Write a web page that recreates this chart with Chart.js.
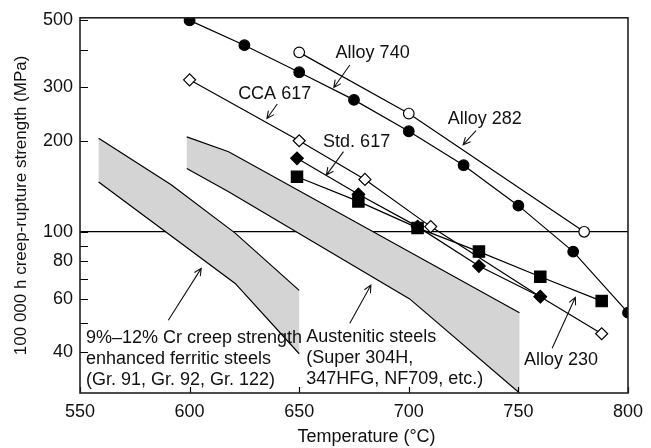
<!DOCTYPE html>
<html>
<head>
<meta charset="utf-8">
<script src="https://cdn.jsdelivr.net/npm/chart.js@4"></script>
<style>
  html, body { margin: 0; padding: 0; background: #fff; }
</style>
</head>
<body>
<canvas id="chart" width="651" height="448"></canvas>
<script>
// Temperature (°C) and 100 000 h creep-rupture strength (MPa)
const alloy740Temp = [600, 625, 650, 675, 700, 725, 750, 775, 800];
const alloy740Mpa = [500, 414, 337, 273, 215, 166, 122, 86, 54];

const alloy282Temp = [650, 700, 780];
const alloy282Mpa = [392, 246, 100];

const cca617Temp = [600, 650, 680, 710, 760, 788];
const cca617Mpa = [318, 200, 149, 104, 61, 46];

const std617Temp = [649, 677, 704, 732, 760];
const std617Mpa = [175, 133, 104, 77, 61];

const alloy230Temp = [649, 677, 704, 732, 760, 788];
const alloy230Mpa = [152, 126, 103, 86, 71, 59];

// Scatter bands (upper and lower bounds)
const ferriticUpperTemp = [558.5, 591.6, 620.8, 650];
const ferriticUpperMpa = [204, 143, 99, 64];
const ferriticLowerTemp = [558.5, 620.8, 650];
const ferriticLowerMpa = [146, 67.5, 39.5];

const austeniticUpperTemp = [598.7, 617.8, 750.5];
const austeniticUpperMpa = [206, 184, 54];
const austeniticLowerTemp = [598.7, 617.8, 700.4, 750.5];
const austeniticLowerMpa = [162, 135.6, 60, 29.3];

// Axis ticks
const xTicks = [550, 600, 650, 700, 750, 800];
const yTicks = [40, 50, 60, 70, 80, 90, 100, 200, 300, 400, 500];
const yLabels = [40, 60, 80, 100, 200, 300, 500];

const FONT = '"Liberation Sans", Arial, sans-serif';

function toPoints(temps, vals) {
    return temps.map((t, i) => ({ x: t, y: vals[i] }));
}

// closed outline: along the upper bound, back along the lower bound
function bandShape(upT, upV, loT, loV) {
    return toPoints(upT, upV).concat(toPoints(loT, loV).reverse());
}

function series(temps, vals, style, radius, fill) {
    return {
        data: toPoints(temps, vals),
        showLine: true,
        borderColor: '#000',
        borderWidth: 1.2,
        pointStyle: style,
        pointRadius: radius,
        pointBorderWidth: 1.2,
        pointBorderColor: '#000',
        pointBackgroundColor: fill,
        order: 1
    };
}

function edge(temps, vals) {
    return {
        data: toPoints(temps, vals),
        showLine: true,
        borderColor: '#000',
        borderWidth: 1.2,
        pointRadius: 0,
        order: 5
    };
}

function band(shape) {
    return {
        data: shape,
        showLine: true,
        borderWidth: 0,
        borderColor: 'rgba(0,0,0,0)',
        backgroundColor: '#d4d4d4',
        fill: 'shape',
        pointRadius: 0,
        order: 9
    };
}

// Text labels with arrows, placed in data units
const notes = [
    { lines: ['Alloy 740'], at: [683.5, 390], align: 'center', arrow: [[673.1, 356], [665.8, 300]] },
    { lines: ['Alloy 282'], at: [734.7, 236], align: 'center', arrow: [[730.7, 216], [724.8, 194]] },
    { lines: ['Std. 617'], at: [676.2, 198.5], align: 'center', arrow: [[670.2, 184], [662.4, 154]] },
    { lines: ['CCA 617'], at: [638.8, 285.5], align: 'center', arrow: [[640, 264.5], [635.3, 237]] },
    { lines: ['Alloy 230'], at: [769.4, 37.6], align: 'center', arrow: [[765.4, 41.2], [776, 60.7]] },
    { lines: ['Austenitic steels', '(Super 304H,', '347HFG, NF709, etc.)'], at: [653.2, 45], align: 'left',
      arrow: [[673.1, 49.8], [682.7, 66.6]] },
    { lines: ['9%\u201312% Cr creep strength', 'enhanced ferritic steels', '(Gr. 91, Gr. 92, Gr. 122)'], at: [552.7, 44.4], align: 'left',
      arrow: [[590.3, 51], [605.3, 75.7]] }
];

function drawArrow(ctx, x1, y1, x2, y2) {
    const ang = Math.atan2(y2 - y1, x2 - x1);
    const len = 8, spread = 0.45;
    ctx.beginPath();
    ctx.moveTo(x1, y1);
    ctx.lineTo(x2, y2);
    ctx.moveTo(x2 - len * Math.cos(ang - spread), y2 - len * Math.sin(ang - spread));
    ctx.lineTo(x2, y2);
    ctx.lineTo(x2 - len * Math.cos(ang + spread), y2 - len * Math.sin(ang + spread));
    ctx.stroke();
}

const frameAndNotes = {
    id: 'frameAndNotes',
    afterDatasetsDraw(chart) {
        const { ctx, chartArea: a, scales: { x, y } } = chart;
        ctx.save();

        // inward tick marks
        ctx.strokeStyle = '#000';
        ctx.lineWidth = 1.2;
        ctx.beginPath();
        yTicks.forEach(v => {
            const py = Math.round(y.getPixelForValue(v)) + 0.5;
            ctx.moveTo(a.left, py);
            ctx.lineTo(a.left + 8, py);
        });
        xTicks.forEach(v => {
            const px = Math.round(x.getPixelForValue(v)) + 0.5;
            ctx.moveTo(px, a.bottom);
            ctx.lineTo(px, a.bottom - 6);
        });
        ctx.stroke();

        // frame
        ctx.strokeStyle = '#222';
        ctx.lineWidth = 1.6;
        ctx.strokeRect(a.left, a.top, a.right - a.left, a.bottom - a.top);

        // labels and arrows
        ctx.fillStyle = '#111';
        ctx.strokeStyle = '#111';
        ctx.lineWidth = 1.1;
        ctx.font = '18px ' + FONT;
        ctx.textBaseline = 'middle';
        notes.forEach(n => {
            const px = x.getPixelForValue(n.at[0]);
            const py = y.getPixelForValue(n.at[1]);
            ctx.textAlign = n.align;
            n.lines.forEach((line, i) => ctx.fillText(line, px, py + i * 21));
            const [p, q] = n.arrow;
            drawArrow(ctx, x.getPixelForValue(p[0]), y.getPixelForValue(p[1]),
                x.getPixelForValue(q[0]), y.getPixelForValue(q[1]));
        });
        ctx.restore();
    }
};

new Chart(document.getElementById('chart'), {
    type: 'scatter',
    data: {
        datasets: [
            series(alloy740Temp, alloy740Mpa, 'circle', 5.3, '#000'),
            series(alloy282Temp, alloy282Mpa, 'circle', 5.3, '#fff'),
            series(std617Temp, std617Mpa, 'rectRot', 6.3, '#000'),
            series(cca617Temp, cca617Mpa, 'rectRot', 6, '#fff'),
            series(alloy230Temp, alloy230Mpa, 'rect', 8, '#000'),
            edge(ferriticUpperTemp, ferriticUpperMpa),
            edge(ferriticLowerTemp, ferriticLowerMpa),
            edge(austeniticUpperTemp, austeniticUpperMpa),
            edge(austeniticLowerTemp, austeniticLowerMpa),
            band(bandShape(ferriticUpperTemp, ferriticUpperMpa, ferriticLowerTemp, ferriticLowerMpa)),
            band(bandShape(austeniticUpperTemp, austeniticUpperMpa, austeniticLowerTemp, austeniticLowerMpa))
        ]
    },
    options: {
        responsive: false,
        animation: false,
        layout: { padding: { top: 17, right: 6, left: 0, bottom: 0 } },
        plugins: {
            legend: { display: false },
            tooltip: { enabled: false }
        },
        scales: {
            x: {
                type: 'linear',
                min: 550,
                max: 800,
                afterBuildTicks: scale => { scale.ticks = xTicks.map(v => ({ value: v })); },
                afterFit: scale => { scale.height = 55; },
                ticks: {
                    color: '#111',
                    font: { family: FONT, size: 18 },
                    padding: 8,
                    maxRotation: 0
                },
                grid: { display: false, drawTicks: false },
                border: { display: false },
                title: {
                    display: true,
                    text: '     Temperature (\u00b0C)',
                    color: '#111',
                    font: { family: FONT, size: 18 },
                    padding: { top: 0, bottom: 0 }
                }
            },
            y: {
                type: 'logarithmic',
                min: 29.3,
                max: 510,
                afterBuildTicks: scale => { scale.ticks = yTicks.map(v => ({ value: v })); },
                afterFit: scale => { scale.width = 80; },
                ticks: {
                    color: '#111',
                    font: { family: FONT, size: 18 },
                    padding: 7,
                    callback: v => yLabels.includes(v) ? String(v) : ''
                },
                grid: {
                    drawTicks: false,
                    lineWidth: 1.2,
                    color: c => (c.tick && c.tick.value === 100) ? '#000' : 'rgba(0,0,0,0)'
                },
                border: { display: false },
                title: {
                    display: true,
                    text: '100 000 h creep-rupture strength (MPa)',
                    color: '#111',
                    font: { family: FONT, size: 17 },
                    padding: { top: 11, bottom: 0 }
                }
            }
        }
    },
    plugins: [frameAndNotes]
});
</script>
</body>
</html>
